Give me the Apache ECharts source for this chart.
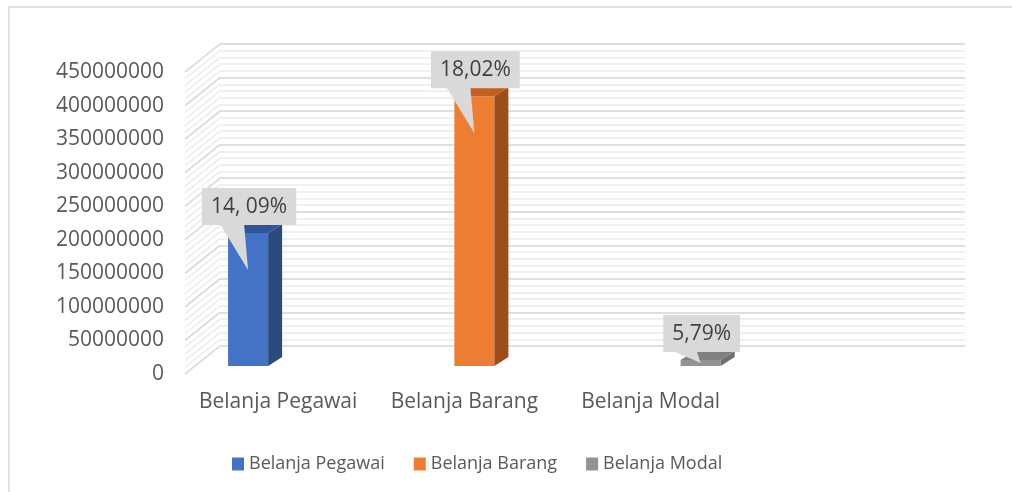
<!DOCTYPE html>
<html>
<head>
<meta charset="utf-8">
<script src="https://cdn.jsdelivr.net/npm/echarts@6/dist/echarts.min.js"></script>
<style>
  html, body { margin: 0; padding: 0; background: #ffffff; }
  #chart { width: 1012px; height: 492px; }
</style>
</head>
<body>
<div id="chart"></div>
<script>
// ---- data ----
const categories = ['Belanja Pegawai', 'Belanja Barang', 'Belanja Modal', ''];
const seriesNames = ['Belanja Pegawai', 'Belanja Barang', 'Belanja Modal'];
const valuesPegawai = [198000000];
const valuesBarang = [402000000];
const valuesModal = [9000000];
const pctLabels = ['14, 09%', '18,02%', '5,79%'];
const yMin = 0;
const yMax = 450000000;
const yInterval = 50000000;
const yMinorSplit = 5;

// ---- styles ----
const frontColors = ['#4472c4', '#ed7d31', '#939393'];
const sideColors = ['#2b4a80', '#9c4d1a', '#6f6f6f'];
const topColors = ['#2f5597', '#c0601f', '#808080'];
const FONT = '"Open Sans", "Noto Sans", sans-serif';
const DX = 35, DY = -28;          // wall depth offset
const BAR_DX = 10, BAR_DY = -8;   // bar placement within depth
const BAR_DEPTH_X = 14, BAR_DEPTH_Y = -9;

const chart = echarts.init(document.getElementById('chart'));

function barSeries(slot, values) {
  return {
    name: seriesNames[slot],
    type: 'custom',
    xAxisIndex: 0,
    yAxisIndex: 0,
    clip: false,
    z: 5,
    itemStyle: { color: frontColors[slot] },
    data: values.map(v => [categories[slot], v]),
    renderItem: function (params, api) {
      const band = api.size([1, 0])[0];
      const bw = band * 0.215;
      const cat = api.value(0);
      const base = api.coord([cat, 0]);
      const top = api.coord([cat, api.value(1)]);
      const cx = base[0] + (slot - 1) * bw + BAR_DX;
      const by = base[1] + BAR_DY;
      const ty = top[1] + BAR_DY;
      const l = cx - bw / 2, r = cx + bw / 2;
      const h = by - ty;
      const tipY = ty + Math.min(37, h * 0.5);
      const boxBottom = ty - 8;
      return {
        type: 'group',
        children: [
          { type: 'rect', shape: { x: l, y: ty, width: bw, height: h }, style: { fill: frontColors[slot] } },
          { type: 'polygon', shape: { points: [[r, by], [r, ty], [r + BAR_DEPTH_X, ty + BAR_DEPTH_Y], [r + BAR_DEPTH_X, by + BAR_DEPTH_Y]] }, style: { fill: sideColors[slot] } },
          { type: 'polygon', shape: { points: [[l, ty], [r, ty], [r + BAR_DEPTH_X, ty + BAR_DEPTH_Y], [l + BAR_DEPTH_X, ty + BAR_DEPTH_Y]] }, style: { fill: topColors[slot] } },
          { type: 'polygon', shape: { points: [[cx - 28, boxBottom - 1], [cx - 4, boxBottom - 1], [cx, tipY]] }, style: { fill: '#d9d9d9' } },
          { type: 'text', style: {
              text: pctLabels[slot], x: cx + 1, y: boxBottom,
              align: 'center', verticalAlign: 'bottom',
              fontFamily: FONT, fontSize: 21, lineHeight: 22,
              fill: '#404040', backgroundColor: '#d9d9d9',
              padding: [8, 9, 7, 9]
            } }
        ]
      };
    }
  };
}

// side wall hatch lines
const sideWallSeries = {
  type: 'custom',
  xAxisIndex: 0,
  yAxisIndex: 0,
  silent: true,
  clip: false,
  z: 1,
  data: [[0, 0]],
  renderItem: function (params, api) {
    const x0 = params.coordSys.x;
    const children = [];
    const step = yInterval / yMinorSplit;
    for (let k = 0; k * step <= yMax; k++) {
      const v = k * step;
      const y = api.coord([0, v])[1];
      const major = (k % yMinorSplit) === 0;
      children.push({
        type: 'line',
        shape: { x1: x0, y1: y, x2: x0 + DX, y2: y + DY },
        style: { stroke: major ? '#d4d4d4' : '#ebebeb', lineWidth: 1.5 },
        z2: major ? 2 : 1
      });
    }
    return { type: 'group', children: children };
  }
};

const option = {
  backgroundColor: '#ffffff',
  animation: false,
  graphic: [
    { type: 'rect', shape: { x: 9, y: 7, width: 1100, height: 600 }, style: { fill: 'none', stroke: '#d9d9d9', lineWidth: 1.5 }, z: -10 }
  ],
  legend: {
    left: 232,
    top: 455,
    padding: 0,
    icon: 'rect',
    itemWidth: 12,
    itemHeight: 13,
    itemGap: 29,
    textStyle: { fontFamily: FONT, fontSize: 18, color: '#595959' },
    data: seriesNames
  },
  grid: [
    { left: 185, right: 82, top: 72, bottom: 118 },          // front plane
    { left: 185 + DX, right: 82 - DX, top: 72 + DY, bottom: 118 - DY } // back wall
  ],
  xAxis: [
    {
      type: 'category', gridIndex: 0, data: categories,
      axisLine: { show: false }, axisTick: { show: false },
      axisLabel: { interval: 0, fontFamily: FONT, fontSize: 21, color: '#595959', margin: 18 },
      splitLine: { show: false }
    },
    {
      type: 'category', gridIndex: 1, data: categories, show: false
    }
  ],
  yAxis: [
    {
      type: 'value', gridIndex: 0, min: yMin, max: yMax, interval: yInterval,
      axisLine: { show: false }, axisTick: { show: false },
      axisLabel: { fontFamily: FONT, fontSize: 21, color: '#595959', margin: 21,
        formatter: function (v) { return String(v); } },
      splitLine: { show: false }
    },
    {
      type: 'value', gridIndex: 1, min: yMin, max: yMax, interval: yInterval,
      axisLine: { show: false }, axisTick: { show: false }, axisLabel: { show: false },
      splitLine: { show: true, lineStyle: { color: '#d4d4d4', width: 1.5 } },
      minorTick: { show: false, splitNumber: yMinorSplit },
      minorSplitLine: { show: true, lineStyle: { color: '#ebebeb', width: 1.5 } }
    }
  ],
  series: [
    sideWallSeries,
    barSeries(0, valuesPegawai),
    barSeries(1, valuesBarang),
    barSeries(2, valuesModal)
  ]
};

chart.setOption(option);
</script>
</body>
</html>
